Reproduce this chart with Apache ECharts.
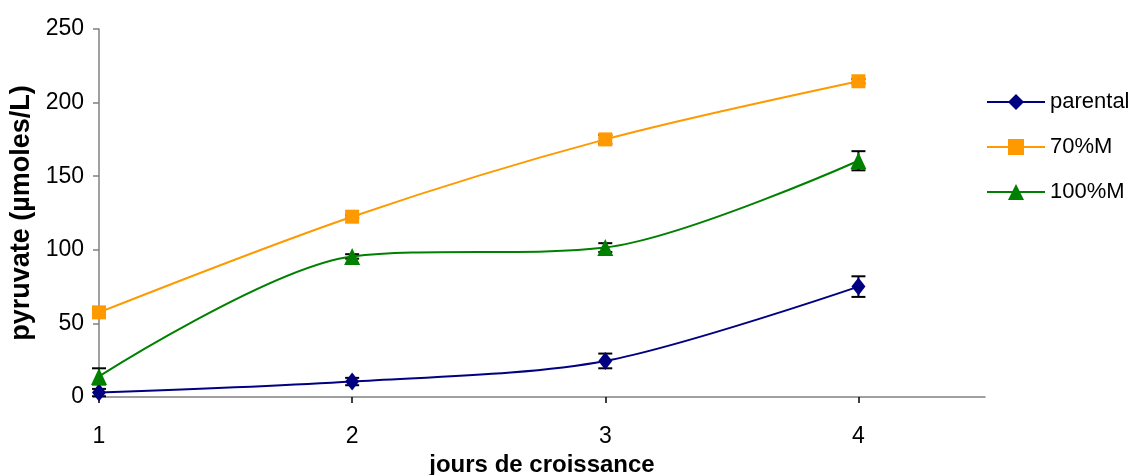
<!DOCTYPE html>
<html>
<head>
<meta charset="utf-8">
<script src="https://cdn.jsdelivr.net/npm/echarts@6/dist/echarts.min.js"></script>
<style>
  html, body { margin: 0; padding: 0; background: #fff; }
  #chart { width: 1133px; height: 475px; }
</style>
</head>
<body>
<div id="chart"></div>
<script>
// Pyruvate concentration over days of growth, mean ± error
const days = [1, 2, 3, 4];
const seriesNames = ['parental', '70%M', '100%M'];
const parental = [3, 10.5, 24.5, 75];
const parentalErr = [2.5, 2.5, 5, 7];
const m70 = [57.5, 122.5, 175, 214.5];
const m70Err = [1, 1, 3, 1.5];
const m100 = [14, 95.5, 101.5, 160.5];
const m100Err = [5.5, 1.5, 3, 6.5];
const xTicks = [1, 2, 3, 4];

const colors = ['#000080', '#FF9900', '#008000'];
const font = '"Liberation Sans", Arial, sans-serif';

function pairs(vals) { return days.map((d, i) => [d, vals[i]]); }
function errRows(vals, errs) { return days.map((d, i) => [d, vals[i] - errs[i], vals[i] + errs[i]]); }

function renderErr(params, api) {
  const x = api.value(0);
  const lo = api.coord([x, api.value(1)]);
  const hi = api.coord([x, api.value(2)]);
  const w = 7;
  const st = { stroke: '#000', lineWidth: 2 };
  return {
    type: 'group',
    children: [
      { type: 'line', shape: { x1: lo[0], y1: lo[1], x2: hi[0], y2: hi[1] }, style: st },
      { type: 'line', shape: { x1: hi[0] - w, y1: hi[1], x2: hi[0] + w, y2: hi[1] }, style: st },
      { type: 'line', shape: { x1: lo[0] - w, y1: lo[1], x2: lo[0] + w, y2: lo[1] }, style: st }
    ]
  };
}

const lineSeries = [
  { name: seriesNames[0], data: pairs(parental), symbol: 'diamond', symbolSize: [14, 18], color: colors[0] },
  { name: seriesNames[1], data: pairs(m70), symbol: 'rect', symbolSize: 14, color: colors[1] },
  { name: seriesNames[2], data: pairs(m100), symbol: 'triangle', symbolSize: [16, 17], color: colors[2] }
].map(s => ({
  type: 'line',
  name: s.name,
  data: s.data,
  smooth: 0.3,
  symbol: s.symbol,
  symbolSize: s.symbolSize,
  showAllSymbol: true,
  itemStyle: { color: s.color, opacity: 1 },
  lineStyle: { color: s.color, width: 2 },
  z: 3
}));

const errSeries = [
  errRows(parental, parentalErr),
  errRows(m70, m70Err),
  errRows(m100, m100Err)
].map(rows => ({
  type: 'custom',
  renderItem: renderErr,
  data: rows,
  encode: { x: 0, y: [1, 2] },
  clip: false,
  silent: true,
  z: 2
}));

const chart = echarts.init(document.getElementById('chart'), null, { renderer: 'canvas' });
chart.setOption({
  animation: false,
  backgroundColor: '#fff',
  grid: { left: 99, right: 148, top: 29, bottom: 78, containLabel: false, outerBoundsMode: 'none' },
  legend: {
    orient: 'vertical',
    left: 986,
    top: 91,
    padding: 0,
    itemWidth: 58,
    itemHeight: 20,
    itemGap: 23,
    data: seriesNames,
    textStyle: { fontFamily: font, fontSize: 22, color: '#000', lineHeight: 22, padding: [0, 0, 0, 0] }
  },
  xAxis: {
    type: 'value',
    min: 1,
    max: 4.5,
    interval: 1,
    name: 'jours de croissance',
    nameLocation: 'middle',
    nameGap: 51,
    nameTextStyle: { fontFamily: font, fontWeight: 'bold', fontSize: 24, color: '#000' },
    axisLine: { lineStyle: { color: '#808080', width: 1.5 } },
    axisTick: { show: true, length: 6, inside: false, customValues: xTicks, lineStyle: { color: '#000', width: 1.5 } },
    axisLabel: { customValues: xTicks, margin: 28, fontFamily: font, fontSize: 23, color: '#000' },
    splitLine: { show: false }
  },
  yAxis: {
    type: 'value',
    min: 0,
    max: 250,
    interval: 50,
    name: 'pyruvate (µmoles/L)',
    nameLocation: 'middle',
    nameGap: 63,
    nameTextStyle: { fontFamily: font, fontWeight: 'bold', fontSize: 27, color: '#000' },
    axisLine: { show: true, lineStyle: { color: '#808080', width: 1.5 } },
    axisTick: { show: true, length: 6, lineStyle: { color: '#808080', width: 1.5 } },
    axisLabel: { margin: 15, fontFamily: font, fontSize: 23, color: '#000' },
    splitLine: { show: false }
  },
  series: errSeries.concat(lineSeries)
});
</script>
</body>
</html>
